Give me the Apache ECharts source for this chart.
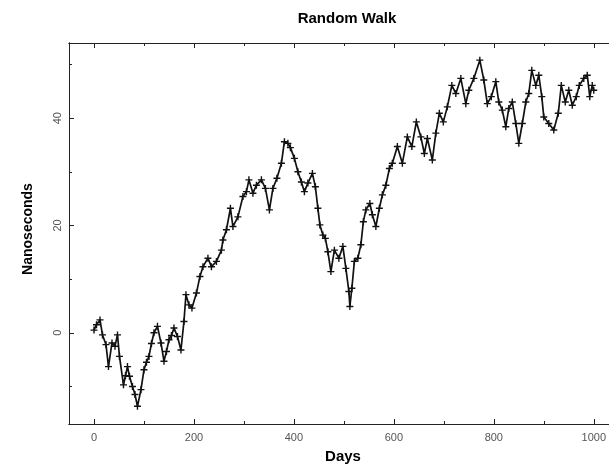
<!DOCTYPE html>
<html>
<head>
<meta charset="utf-8">
<script src="https://cdn.jsdelivr.net/npm/echarts@6/dist/echarts.min.js"></script>
<style>
  html, body { margin: 0; padding: 0; background: #fff; }
  #chart { width: 609px; height: 466px; }
</style>
</head>
<body>
<div id="chart"></div>
<script>
// values
var days = [0, 5, 12, 17, 24, 29, 36, 42, 47, 51, 59, 63, 67, 71, 77, 82, 87, 94, 100, 105,
  110, 115, 120, 127, 134, 140, 145, 150, 155, 160, 167, 174, 180, 184, 190, 196,
  205, 212, 218, 228, 235, 245, 255, 258, 265, 273, 278, 288, 298, 305, 310, 318, 325,
  335, 343, 351, 358, 366, 375, 381, 388, 393, 401, 408, 415, 421, 428, 437, 443, 448,
  452, 458, 463, 468, 474, 481, 490, 498, 504, 510, 512, 516, 521, 528, 534, 539, 544,
  552, 557, 564, 571, 577, 584, 591, 597, 607, 617, 627, 636, 645, 654, 661, 667, 677,
  684, 691, 699, 707, 716, 724, 734, 744, 750, 760, 772, 780, 787, 795, 804, 810, 817,
  824, 830, 837, 844, 850, 857, 864, 870, 876, 884, 890, 896, 900, 910, 920, 929, 935,
  943, 950, 957, 965, 971, 980, 987, 992, 997, 1000];
var nanoseconds = [0.5, 1.5, 2.4, -0.4, -2.2, -6.3, -1.9, -2.5, -0.4, -4.4, -9.7, -8, -6.3, -8.1, -10, -11.5, -13.7, -10.6, -6.9, -5.5,
  -4.4, -2, 0, 1.2, -1.9, -5.3, -3.5, -1.3, -0.5, 0.9, -0.7, -3.2, 2.1, 7.1, 5.2, 4.6,
  7.4, 10.5, 12.3, 13.9, 12.3, 13.3, 15.4, 17.3, 19.2, 23.2, 19.8, 21.6, 25.4, 26.3, 28.5, 26, 27.5,
  28.5, 26.9, 22.9, 26.9, 28.8, 31.6, 35.6, 35.3, 34.5, 32.5, 30, 28.1, 26.3, 27.9, 29.7, 27.2, 23.2,
  20.1, 18.2, 17.6, 15.1, 11.4, 15.4, 13.9, 16.1, 12, 7.7, 4.9, 8.3, 13.3, 13.9, 16.4, 20.7, 22.9,
  24.1, 22, 19.8, 23.2, 25.7, 27.5, 30.6, 31.6, 34.7, 31.6, 36.5, 34.7, 39.3, 36.5, 33.4, 36.2, 32.2,
  37.2, 40.9, 39.3, 42.1, 46.1, 44.6, 47.4, 42.7, 45.2, 47.4, 50.8, 47.1, 42.7, 44, 46.8, 43, 41.5,
  38.4, 41.8, 43, 39, 35.3, 39, 43, 44.6, 48.9, 46.1, 48, 44, 40.2, 39, 37.8, 40.9, 46.1,
  43, 45.2, 42.4, 44, 46.1, 47.4, 48, 44, 46.1, 45.2];

var xTicks = [0, 200, 400, 600, 800, 1000];
var xMinorTicks = [100, 300, 500, 700, 900];
var yTicks = [0, 20, 40];
var yMinorTicks = [-10, 10, 30, 50];

var points = [];
for (var i = 0; i < days.length; i++) {
  points.push([days[i], nanoseconds[i]]);
}

var labelFont = { color: '#555', fontSize: 11, fontFamily: 'Liberation Sans, Arial, sans-serif' };
var axisLine = { show: true, onZero: false, lineStyle: { color: '#222', width: 1 } };

function xAxisOf(pos, ticks, len, withLabels) {
  return {
    type: 'value', position: pos, min: -50, max: 1030,
    axisLine: axisLine,
    splitLine: { show: false },
    axisTick: { show: true, inside: true, length: len, customValues: ticks, lineStyle: { color: '#222' } },
    axisLabel: withLabels ? Object.assign({ margin: 8, customValues: ticks, formatter: function (v) { return String(v); } }, labelFont) : { show: false }
  };
}
function yAxisOf(ticks, len, withLabels) {
  return {
    type: 'value', position: 'left', min: -17, max: 54,
    axisLine: axisLine,
    splitLine: { show: false },
    axisTick: { show: true, inside: true, length: len, customValues: ticks, lineStyle: { color: '#222' } },
    axisLabel: withLabels ? Object.assign({ margin: 6, rotate: 90, customValues: ticks }, labelFont) : { show: false }
  };
}

var chart = echarts.init(document.getElementById('chart'));
chart.setOption({
  backgroundColor: '#fff',
  animation: false,
  grid: { left: 69, top: 43, right: 0, bottom: 42 },
  xAxis: [
    xAxisOf('bottom', xTicks, 5, true),
    xAxisOf('bottom', xMinorTicks, 3, false),
    xAxisOf('top', xTicks, 5, false),
    xAxisOf('top', xMinorTicks, 3, false)
  ],
  yAxis: [
    yAxisOf(yTicks, 5, true),
    yAxisOf(yMinorTicks, 3, false)
  ],
  graphic: [
    { type: 'text', x: 347, y: 19, style: { text: 'Random Walk', font: 'bold 15px Liberation Sans, Arial', fill: '#000', textAlign: 'center', textVerticalAlign: 'middle' } },
    { type: 'text', x: 343, y: 457, style: { text: 'Days', font: 'bold 15px Liberation Sans, Arial', fill: '#000', textAlign: 'center', textVerticalAlign: 'middle' } },
    { type: 'text', x: 28, y: 229, rotation: Math.PI / 2, style: { text: 'Nanoseconds', font: 'bold 14px Liberation Sans, Arial', fill: '#000', textAlign: 'center', textVerticalAlign: 'middle' } }
  ],
  series: [{
    type: 'line',
    data: points,
    xAxisIndex: 0,
    yAxisIndex: 0,
    symbol: 'path://M4,0H6V4H10V6H6V10H4V6H0V4H4Z',
    symbolSize: 7,
    itemStyle: { color: '#111' },
    lineStyle: { color: '#111', width: 1.7 }
  }]
});
</script>
</body>
</html>
